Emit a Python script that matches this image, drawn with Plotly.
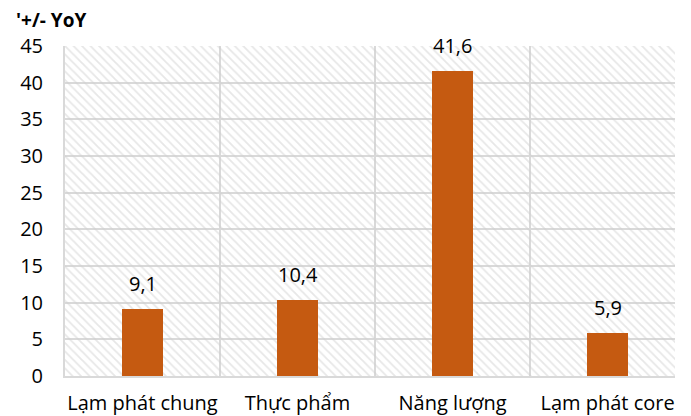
import plotly.graph_objects as go

# Year-on-year change by inflation component
categories = ["Lạm phát chung", "Thực phẩm", "Năng lượng", "Lạm phát core"]
values = [9.1, 10.4, 41.6, 5.9]
y_ticks = [0, 5, 10, 15, 20, 25, 30, 35, 40, 45]
y_title = "'+/- YoY"

BAR_COLOR = "#C55A11"
GRID = "#d9d9d9"
FONT = "Open Sans"
y_max = y_ticks[-1]

positions = list(range(len(categories)))
x_lo, x_hi = -0.5, 3.435


def fmt(v):
    return f"{v:.1f}".replace(".", ",")


fig = go.Figure()

# hatched plot-area background
fig.add_trace(go.Bar(
    x=[(x_lo + x_hi) / 2], y=[y_max], width=[x_hi - x_lo],
    marker=dict(color="rgba(0,0,0,0)", line=dict(width=0),
                pattern=dict(shape="\\", size=6, solidity=0.3,
                             fgcolor="#cfcfcf", bgcolor="rgba(0,0,0,0)",
                             fillmode="overlay")),
    hoverinfo="skip", showlegend=False,
))

fig.add_trace(go.Bar(
    x=positions, y=values, width=0.27,
    marker=dict(color=BAR_COLOR, line=dict(width=0)),
    showlegend=False,
))

for p, v in zip(positions, values):
    fig.add_annotation(x=p, y=v, text=fmt(v), showarrow=False,
                       yanchor="bottom", yshift=10,
                       font=dict(family=FONT, size=20, color="#000000"))

fig.update_layout(
    width=691, height=416,
    margin=dict(l=65, r=16, t=46, b=40),
    paper_bgcolor="white", plot_bgcolor="white",
    barmode="overlay", bargap=0,
    font=dict(family=FONT, size=20, color="#000000"),
    title=dict(text=f"<b>{y_title}</b>", x=16 / 691, xanchor="left",
               xref="container", y=1 - 20 / 416, yanchor="middle",
               yref="container", font=dict(family=FONT, size=19, color="#000000")),
)

fig.update_xaxes(
    range=[x_lo, x_hi], tickmode="array", tickvals=positions, ticktext=categories,
    showgrid=False, zeroline=False, ticks="", ticklabelstandoff=8,
    automargin=False,
    showline=True, linecolor=GRID, linewidth=2,
    minor=dict(tickvals=[0.5, 1.5, 2.5], showgrid=True, gridcolor=GRID,
               gridwidth=2, ticks=""),
    tickfont=dict(family=FONT, size=20),
)
fig.update_yaxes(
    range=[0, y_max], tickmode="array", tickvals=y_ticks,
    showgrid=True, gridcolor=GRID, gridwidth=2, zeroline=False,
    showline=True, linecolor=GRID, linewidth=2, ticks="",
    automargin=False,
    ticklabelstandoff=16, tickfont=dict(family=FONT, size=20),
)

fig.write_html("out.html")
